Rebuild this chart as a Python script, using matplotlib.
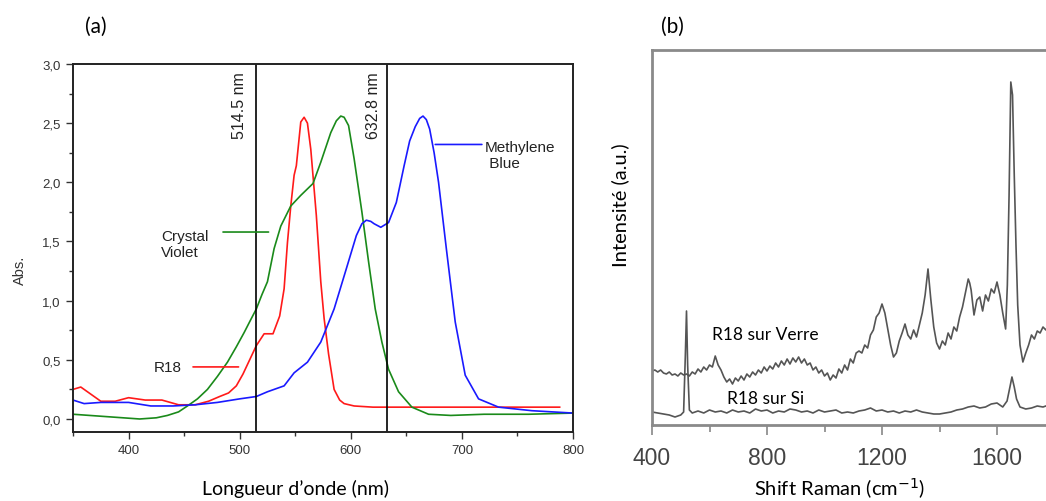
import matplotlib
matplotlib.use("Agg")
import matplotlib.pyplot as plt
from matplotlib.ticker import MultipleLocator, FuncFormatter

# ---- (a) absorption spectra: wavelength (nm) / Abs
r18_nm = [350, 357, 366, 375, 388, 400, 415, 430, 445, 460, 472, 482, 490, 497,
          503, 508, 515, 522, 530, 536, 540, 543, 546, 549, 551, 555, 558, 561,
          564, 569, 573, 576, 580, 585, 590, 594, 603, 620, 680, 740, 788]
r18_abs = [0.25, 0.27, 0.21, 0.15, 0.15, 0.18, 0.16, 0.16, 0.12, 0.12, 0.15, 0.19, 0.22, 0.28,
           0.38, 0.48, 0.62, 0.72, 0.72, 0.87, 1.10, 1.49, 1.80, 2.06, 2.14, 2.51, 2.55, 2.50,
           2.28, 1.72, 1.16, 0.85, 0.55, 0.25, 0.16, 0.13, 0.11, 0.10, 0.10, 0.10, 0.10]

cv_nm = [350, 365, 380, 395, 410, 425, 435, 445, 453, 462, 471, 480, 489, 497, 504, 510, 515,
         520, 525, 531, 537, 546, 555, 566, 573, 582, 587, 591, 594, 598, 603, 610, 616,
         622, 628, 634, 643, 655, 670, 690, 720, 760, 800]
cv_abs = [0.04, 0.03, 0.02, 0.01, 0.00, 0.01, 0.03, 0.06, 0.11, 0.17, 0.25, 0.36, 0.48, 0.61, 0.73,
          0.84, 0.93, 1.05, 1.16, 1.44, 1.63, 1.80, 1.89, 1.99, 2.17, 2.42, 2.52, 2.56, 2.55, 2.48,
          2.20, 1.75, 1.33, 0.93, 0.65, 0.42, 0.23, 0.10, 0.04, 0.03, 0.04, 0.04, 0.05]

mb_nm = [350, 360, 375, 400, 420, 440, 460, 480, 500, 515, 525, 540, 549, 561, 573, 585, 596,
         605, 610, 614, 618, 621, 627, 634, 641, 648, 653, 658, 662, 665, 668, 671, 675, 679,
         686, 694, 703, 715, 733, 763, 800]
mb_abs = [0.16, 0.13, 0.14, 0.14, 0.11, 0.11, 0.12, 0.14, 0.17, 0.19, 0.23, 0.28, 0.39, 0.48, 0.65,
          0.93, 1.27, 1.55, 1.65, 1.68, 1.67, 1.65, 1.62, 1.66, 1.83, 2.14, 2.35, 2.47, 2.54, 2.56,
          2.53, 2.45, 2.25, 2.00, 1.44, 0.82, 0.37, 0.17, 0.10, 0.07, 0.05]

laser_lines = [514.5, 632.8]
laser_labels = ["514.5 nm", "632.8 nm"]

# ---- (b) Raman spectra: shift (cm-1) / intensity (a.u.)
verre_x = list(range(400, 1510, 10)) + [1505, 1510] + list(range(1520, 1640, 10)) \
    + [1636, 1642, 1648, 1654, 1660, 1666, 1672, 1680] + list(range(1690, 1810, 10))
verre_x = sorted(set(verre_x))
verre_y = [54, 55, 53, 55, 52, 51, 53, 50, 51, 49, 52, 50, 51, 49, 53, 51, 56, 53, 58, 55,
           60, 58, 69, 60, 55, 48, 43, 46, 41, 47, 44, 49, 45, 51, 48, 53, 50, 55, 52, 58,
           54, 59, 56, 62, 58, 64, 60, 66, 61, 67, 63, 68, 62, 66, 60, 62, 55, 58, 52, 55,
           49, 52, 45, 50, 47, 56, 52, 60, 55, 66, 62, 72, 74, 72, 80, 77, 90, 95, 108, 112,
           121, 112, 96, 80, 68, 72, 84, 92, 101, 90, 86, 95, 88, 100, 112, 130, 156, 125, 98, 82,
           76, 84, 80, 92, 86, 98, 94, 108, 118, 132, 146, 142, 135, 110, 125, 128, 114, 130, 124, 136,
           132, 143, 130, 112, 96, 140, 230, 343, 330, 250, 180, 120, 80, 63, 72, 80, 90, 86, 94, 92,
           98, 95, 100, 97, 100]

si_x = [400, 420, 440, 460, 480, 500, 510, 516, 520, 524, 530, 540, 560, 580, 600, 620, 640,
        660, 680, 700, 720, 740, 760, 780, 800, 820, 840, 860, 880, 900, 920, 940, 960, 980,
        1000, 1020, 1040, 1060, 1080, 1100, 1120, 1140, 1160, 1180, 1200, 1220, 1240, 1260,
        1280, 1300, 1320, 1340, 1360, 1380, 1400, 1420, 1440, 1460, 1480, 1500, 1520, 1540,
        1560, 1580, 1600, 1620, 1635, 1645, 1652, 1660, 1668, 1680, 1700, 1720, 1740, 1760,
        1780, 1800]
si_y = [13, 12, 11, 10, 8, 10, 13, 70, 114, 60, 15, 12, 14, 12, 15, 13, 14,
        12, 15, 13, 14, 12, 16, 14, 15, 12, 14, 13, 16, 15, 13, 14, 12, 15,
        13, 14, 15, 12, 13, 12, 14, 15, 17, 14, 15, 13, 14, 12,
        14, 13, 15, 13, 12, 11, 11, 12, 13, 15, 16, 18, 19, 17,
        18, 21, 22, 18, 24, 38, 48, 38, 26, 18, 16, 17, 19, 18,
        20, 21]

tick_font = ["Liberation Sans", "DejaVu Sans"]
text_font = ["Lato", "DejaVu Sans"]
plt.rcParams["font.family"] = tick_font

W, H = 1046, 502
fig = plt.figure(figsize=(W / 100, H / 100), dpi=100)

# ---------------- panel (a)
ax = fig.add_axes([73 / W, (H - 433) / H, 500 / W, 368 / H])
ax.plot(r18_nm, r18_abs, color="#ff1a1a", lw=1.2)
ax.plot(cv_nm, cv_abs, color="#1a8a1a", lw=1.2)
ax.plot(mb_nm, mb_abs, color="#1a1aff", lw=1.2)
for xl, lab, xt in zip(laser_lines, laser_labels, [500, 620]):
    ax.axvline(xl, color="black", lw=1.2)
    ax.text(xt, 2.94, lab, rotation=90, ha="center", va="top",
            fontsize=11.5, color="#222222")

ax.set_xlim(350, 800)
ax.set_ylim(-0.11, 3.0)
ax.xaxis.set_major_locator(MultipleLocator(100))
ax.xaxis.set_minor_locator(MultipleLocator(50))
ax.yaxis.set_major_locator(MultipleLocator(0.5))
ax.yaxis.set_minor_locator(MultipleLocator(0.25))
ax.yaxis.set_major_formatter(FuncFormatter(lambda v, p: f"{v:.1f}".replace(".", ",")))
ax.tick_params(which="both", direction="out", color="#333333",
               labelsize=9.5, labelcolor="#333333", width=1.0)
ax.tick_params(which="major", length=5, pad=4)
ax.tick_params(which="minor", length=3)
for sp in ax.spines.values():
    sp.set_linewidth(1.4)
    sp.set_color("#222222")

ann = dict(arrowstyle="-", lw=1.2, shrinkA=0, shrinkB=0)
ax.annotate("", xy=(526, 1.58), xytext=(485, 1.58), arrowprops=dict(ann, color="#1a8a1a"))
ax.text(429, 1.48, "Crystal\nViolet", ha="left", va="center", fontsize=11,
        color="#222222", linespacing=1.15)
ax.annotate("", xy=(499, 0.44), xytext=(458, 0.44), arrowprops=dict(ann, color="#ff1a1a"))
ax.text(423, 0.44, "R18", ha="left", va="center", fontsize=11, color="#222222")
ax.annotate("", xy=(718, 2.32), xytext=(676, 2.32), arrowprops=dict(ann, color="#1a1aff"))
ax.text(721, 2.23, "Methylene\n Blue", ha="left", va="center", fontsize=11,
        color="#222222", linespacing=1.15)

fig.text(20 / W, 1 - 270 / H, "Abs.", rotation=90, ha="center", va="center",
         fontsize=10.5, color="#333333")
fig.text(295 / W, 1 - 489 / H, "Longueur d’onde (nm)", ha="center", va="center",
         fontsize=14, family=text_font)
fig.text(96 / W, 1 - 27 / H, "(a)", ha="center", va="center", fontsize=15, family=text_font)

# ---------------- panel (b)
bx = fig.add_axes([652 / W, (H - 426) / H, 402.5 / W, 375 / H])
bx.plot(verre_x, verre_y, color="#555555", lw=1.2, zorder=2)
bx.plot(si_x, si_y, color="#555555", lw=1.2, zorder=2)
bx.set_xlim(400, 1800)
bx.set_ylim(0, 375)
bx.xaxis.set_major_locator(MultipleLocator(400))
bx.xaxis.set_minor_locator(MultipleLocator(200))
bx.set_yticks([])
bx.tick_params(axis="x", which="both", direction="out", color="#888888", width=1.2)
bx.tick_params(axis="x", which="major", length=7, pad=8, labelsize=16.5, labelcolor="#444444")
bx.tick_params(axis="x", which="minor", length=5)
for sp in bx.spines.values():
    sp.set_linewidth(2.0)
    sp.set_color("#8a8a8a")

bx.text(609, 91, "R18 sur Verre", ha="left", va="center", fontsize=12.5, family=text_font,
        zorder=3, bbox=dict(boxstyle="square,pad=0.45", fc="white", ec="none"))
bx.text(661, 27, "R18 sur Si", ha="left", va="center", fontsize=12.5, family=text_font, zorder=3)

fig.text(620 / W, 1 - 205 / H, "Intensité (a.u.)", rotation=90, ha="center", va="center",
         fontsize=14.5, family=text_font)
fig.text(840 / W, 1 - 489 / H, "Shift Raman (cm$^{-1}$)", ha="center", va="center",
         fontsize=14.5, family=text_font)
fig.text(672 / W, 1 - 27 / H, "(b)", ha="center", va="center", fontsize=15, family=text_font)

fig.savefig("out.png", dpi=100)
